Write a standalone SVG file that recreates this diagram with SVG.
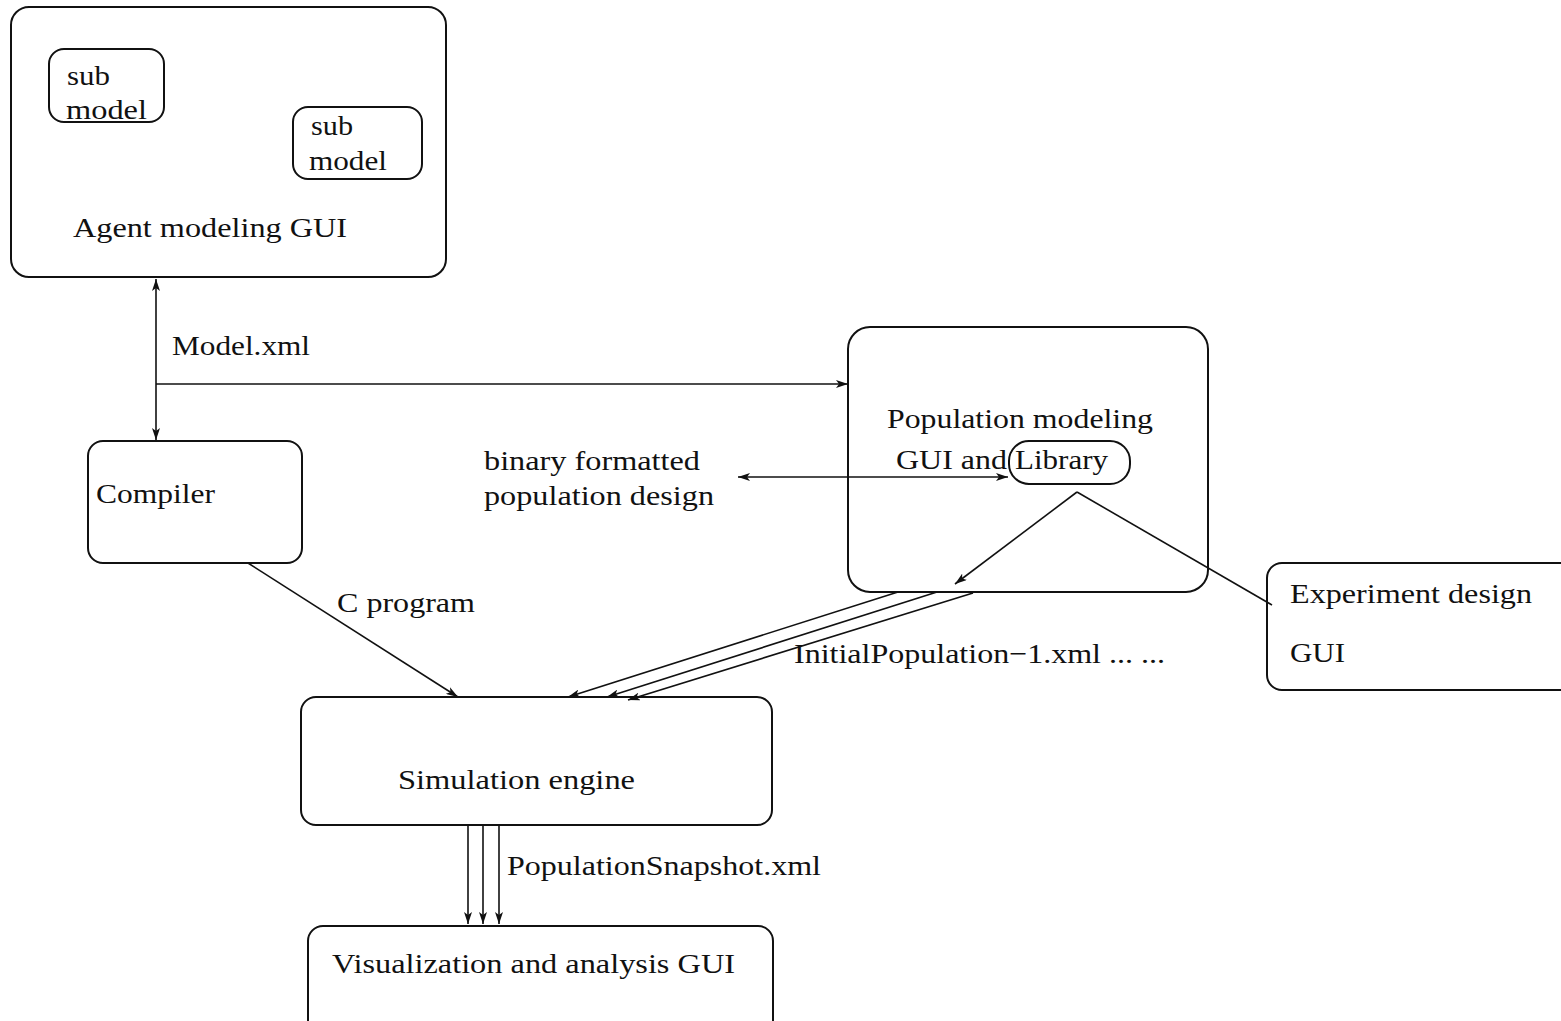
<svg xmlns="http://www.w3.org/2000/svg" width="1561" height="1021" viewBox="0 0 1561 1021">
  <style>
    .box { fill: none; stroke: #111; stroke-width: 2; }
    .edge { fill: none; stroke: #111; stroke-width: 1.6; }
    .lbl { font-family: "Liberation Serif", "Times New Roman", serif; font-size: 28px; fill: #111; }
  </style>
  <defs>
    <marker id="arrow" viewBox="0 0 12 8" refX="12" refY="4" markerWidth="12" markerHeight="8" markerUnits="userSpaceOnUse" orient="auto-start-reverse">
      <path d="M0,0 L12,4 L0,8 L3,4 Z" fill="#111"/>
    </marker>
  </defs>
  <rect width="1561" height="1021" fill="#fff"/>

  <g id="agent-gui">
    <rect class="box" x="11" y="7" width="435" height="270" rx="18"/>
    <text class="lbl" x="73" y="237" textLength="274" lengthAdjust="spacingAndGlyphs">Agent modeling GUI</text>
  </g>
  <g id="submodel-1">
    <rect class="box" x="49" y="49" width="115" height="73" rx="15"/>
    <text class="lbl" x="67" y="85" textLength="43" lengthAdjust="spacingAndGlyphs">sub</text>
    <text class="lbl" x="66" y="119" textLength="81" lengthAdjust="spacingAndGlyphs">model</text>
  </g>
  <g id="submodel-2">
    <rect class="box" x="293" y="107" width="129" height="72" rx="15"/>
    <text class="lbl" x="311" y="135" textLength="42" lengthAdjust="spacingAndGlyphs">sub</text>
    <text class="lbl" x="309" y="170" textLength="78" lengthAdjust="spacingAndGlyphs">model</text>
  </g>
  <g id="compiler">
    <rect class="box" x="88" y="441" width="214" height="122" rx="15"/>
    <text class="lbl" x="96" y="503" textLength="119" lengthAdjust="spacingAndGlyphs">Compiler</text>
  </g>
  <g id="population-gui">
    <rect class="box" x="848" y="327" width="360" height="265" rx="22"/>
    <text class="lbl" x="887" y="428" textLength="266" lengthAdjust="spacingAndGlyphs">Population modeling</text>
    <text class="lbl" x="896" y="469" textLength="111" lengthAdjust="spacingAndGlyphs">GUI and</text>
  </g>
  <g id="library">
    <rect class="box" x="1009" y="441" width="121" height="43" rx="20"/>
    <text class="lbl" x="1015" y="469" textLength="93" lengthAdjust="spacingAndGlyphs">Library</text>
  </g>
  <g id="experiment-gui">
    <rect class="box" x="1267" y="563" width="330" height="127" rx="15"/>
    <text class="lbl" x="1290" y="603" textLength="242" lengthAdjust="spacingAndGlyphs">Experiment design</text>
    <text class="lbl" x="1290" y="662" textLength="55" lengthAdjust="spacingAndGlyphs">GUI</text>
  </g>
  <g id="simulation-engine">
    <rect class="box" x="301" y="697" width="471" height="128" rx="15"/>
    <text class="lbl" x="398" y="789" textLength="237" lengthAdjust="spacingAndGlyphs">Simulation engine</text>
  </g>
  <g id="visualization-gui">
    <rect class="box" x="308" y="926" width="465" height="120" rx="15"/>
    <text class="lbl" x="332" y="973" textLength="403" lengthAdjust="spacingAndGlyphs">Visualization and analysis GUI</text>
  </g>

  <g id="connectors">
    <!-- Model.xml exchange between agent GUI and compiler -->
    <line class="edge" x1="156" y1="279" x2="156" y2="440" marker-start="url(#arrow)" marker-end="url(#arrow)"/>
    <line class="edge" x1="156" y1="384" x2="848" y2="384" marker-end="url(#arrow)"/>
    <!-- binary population design <-> library -->
    <line class="edge" x1="738" y1="477" x2="1008" y2="477" marker-start="url(#arrow)" marker-end="url(#arrow)"/>
    <!-- library outputs -->
    <line class="edge" x1="1077" y1="492" x2="955" y2="584" marker-end="url(#arrow)"/>
    <line class="edge" x1="1077" y1="492" x2="1272" y2="605"/>
    <!-- compiler to engine -->
    <line class="edge" x1="248" y1="563" x2="458" y2="697" marker-end="url(#arrow)"/>
    <!-- initial populations to engine -->
    <line class="edge" x1="898" y1="592" x2="568" y2="697" marker-end="url(#arrow)"/>
    <line class="edge" x1="937" y1="592" x2="607" y2="697" marker-end="url(#arrow)"/>
    <line class="edge" x1="973" y1="593" x2="628" y2="700" marker-end="url(#arrow)"/>
    <!-- snapshots to visualization -->
    <line class="edge" x1="468" y1="825" x2="468" y2="924" marker-end="url(#arrow)"/>
    <line class="edge" x1="483" y1="825" x2="483" y2="924" marker-end="url(#arrow)"/>
    <line class="edge" x1="499" y1="825" x2="499" y2="924" marker-end="url(#arrow)"/>
  </g>

  <g id="edge-labels">
    <text class="lbl" x="172" y="355" textLength="138" lengthAdjust="spacingAndGlyphs">Model.xml</text>
    <text class="lbl" x="484" y="470" textLength="216" lengthAdjust="spacingAndGlyphs">binary formatted</text>
    <text class="lbl" x="484" y="505" textLength="230" lengthAdjust="spacingAndGlyphs">population design</text>
    <text class="lbl" x="337" y="612" textLength="138" lengthAdjust="spacingAndGlyphs">C program</text>
    <text class="lbl" x="794" y="663" textLength="371" lengthAdjust="spacingAndGlyphs">InitialPopulation−1.xml ... ...</text>
    <text class="lbl" x="507" y="875" textLength="314" lengthAdjust="spacingAndGlyphs">PopulationSnapshot.xml</text>
  </g>
</svg>
